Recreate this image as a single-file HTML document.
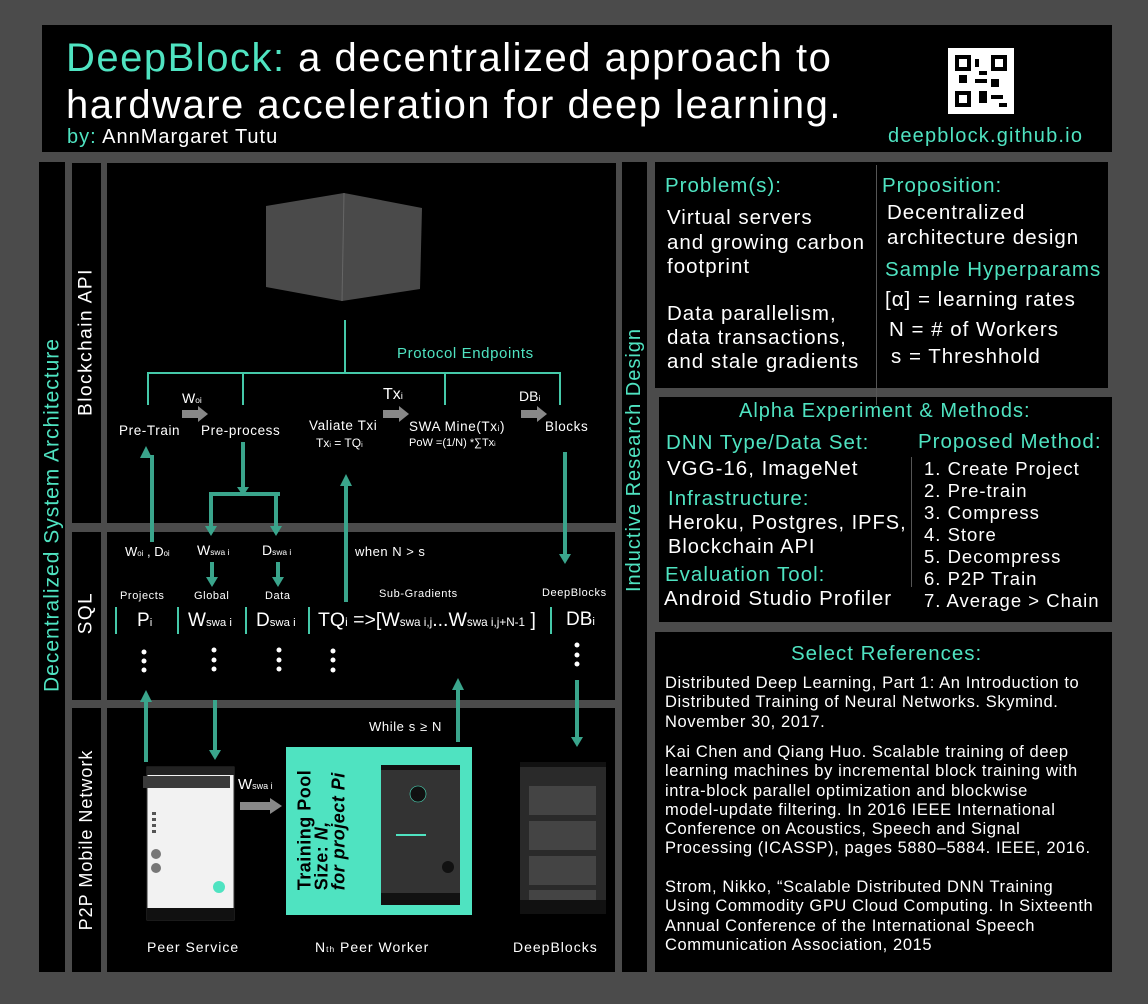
<!DOCTYPE html>
<html><head><meta charset="utf-8"><style>
*{margin:0;padding:0;box-sizing:border-box}
body{width:1148px;height:1004px;background:#4b4b4b;position:relative;overflow:hidden;font-family:"Liberation Sans",sans-serif;color:#fff}
.b{position:absolute;background:#000}
.t{position:absolute;white-space:nowrap;line-height:1}
.g{color:#4fe3c1}
.v{position:absolute;white-space:nowrap;transform:translate(-50%,-50%) rotate(-90deg);line-height:1}
sub{font-size:60%;vertical-align:baseline}
</style></head><body>
<!-- header -->
<div class="b" style="left:42px;top:25px;width:1070px;height:127px"></div>
<div class="t" style="left:66px;top:38px;font-size:40px;letter-spacing:1.5px"><span class="g">DeepBlock:</span> a decentralized approach to</div>
<div class="t" style="left:66px;top:85px;font-size:40px;letter-spacing:1.5px">hardware acceleration for deep learning.</div>
<div class="t" style="left:67px;top:127px;font-size:20px;letter-spacing:1px"><span class="g">by:</span> AnnMargaret Tutu</div>
<div style="position:absolute;left:948px;top:48px;width:66px;height:66px;background:#fff"></div>
<svg style="position:absolute;left:955px;top:55px" width="52" height="52" viewBox="0 0 13 13"><g fill="#000">
<rect x="0" y="0" width="4" height="4"/><rect x="9" y="0" width="4" height="4"/><rect x="0" y="9" width="4" height="4"/>
<rect x="5" y="1" width="1" height="2"/><rect x="6" y="4" width="2" height="1"/><rect x="5" y="6" width="3" height="1"/><rect x="9" y="6" width="2" height="2"/><rect x="6" y="9" width="2" height="3"/><rect x="9" y="10" width="3" height="1"/><rect x="1" y="5" width="2" height="2"/><rect x="11" y="12" width="2" height="1"/></g>
<g fill="#fff"><rect x="1" y="1" width="2" height="2"/><rect x="10" y="1" width="2" height="2"/><rect x="1" y="10" width="2" height="2"/></g></svg>
<div class="t g" style="left:888px;top:126px;font-size:20px;letter-spacing:1.2px">deepblock.github.io</div>

<!-- left side -->
<div class="b" style="left:39px;top:162px;width:26px;height:810px"></div>
<div class="v g" style="left:52px;top:515px;font-size:21px;letter-spacing:1px">Decentralized System Architecture</div>
<div class="b" style="left:72px;top:163px;width:29px;height:360px"></div>
<div class="b" style="left:72px;top:532px;width:29px;height:168px"></div>
<div class="b" style="left:72px;top:708px;width:29px;height:264px"></div>
<div class="v" style="left:86px;top:342px;font-size:19px;letter-spacing:1.5px">Blockchain API</div>
<div class="v" style="left:86px;top:613px;font-size:19px;letter-spacing:1.5px">SQL</div>
<div class="v" style="left:86px;top:840px;font-size:18px;letter-spacing:1px">P2P Mobile Network</div>
<div class="b" style="left:107px;top:163px;width:509px;height:360px"></div>
<div class="b" style="left:107px;top:532px;width:508px;height:168px"></div>
<div class="b" style="left:107px;top:708px;width:508px;height:264px"></div>

<!-- right side -->
<div class="b" style="left:622px;top:162px;width:25px;height:810px"></div>
<div class="v g" style="left:634px;top:460px;font-size:20px;letter-spacing:1px">Inductive Research Design</div>
<div class="b" style="left:655px;top:162px;width:453px;height:226px"></div>
<div class="b" style="left:659px;top:397px;width:453px;height:225px"></div>
<div class="b" style="left:655px;top:632px;width:457px;height:340px"></div>
<div style="position:absolute;left:876px;top:165px;width:1px;height:240px;background:#555"></div>
<div style="position:absolute;left:911px;top:457px;width:1px;height:130px;background:#555"></div>

<div class="t g" style="left:665px;top:176px;font-size:20.5px;letter-spacing:1px">Problem(s):</div>
<div class="t" style="left:667px;top:206px;font-size:20.5px;letter-spacing:1px;line-height:24.5px">Virtual servers<br>and growing carbon<br>footprint</div>
<div class="t" style="left:667px;top:302px;font-size:20.5px;letter-spacing:1px;line-height:24px">Data parallelism,<br>data transactions,<br>and stale gradients</div>
<div class="t g" style="left:882px;top:176px;font-size:20.5px;letter-spacing:1px">Proposition:</div>
<div class="t" style="left:887px;top:201px;font-size:20.5px;letter-spacing:1px;line-height:24.5px">Decentralized<br>architecture design</div>
<div class="t g" style="left:885px;top:260px;font-size:20.5px;letter-spacing:1px">Sample Hyperparams</div>
<div class="t" style="left:885px;top:290px;font-size:20.5px;letter-spacing:1px">[α] = learning rates</div>
<div class="t" style="left:889px;top:320px;font-size:20.5px;letter-spacing:1px">N = # of Workers</div>
<div class="t" style="left:891px;top:347px;font-size:20.5px;letter-spacing:1px">s = Threshhold</div>

<div class="t g" style="left:739px;top:401px;font-size:20px;letter-spacing:1px">Alpha Experiment &amp; Methods:</div>
<div class="t g" style="left:666px;top:433px;font-size:20.5px;letter-spacing:1px">DNN Type/Data Set:</div>
<div class="t" style="left:667px;top:459px;font-size:20.5px;letter-spacing:1px">VGG-16, ImageNet</div>
<div class="t g" style="left:668px;top:489px;font-size:20.5px;letter-spacing:1px">Infrastructure:</div>
<div class="t" style="left:668px;top:511px;font-size:20px;letter-spacing:1px;line-height:24px">Heroku, Postgres, IPFS,<br>Blockchain API</div>
<div class="t g" style="left:665px;top:565px;font-size:20.5px;letter-spacing:1px">Evaluation Tool:</div>
<div class="t" style="left:664px;top:589px;font-size:20.5px;letter-spacing:1px">Android Studio Profiler</div>
<div class="t g" style="left:918px;top:432px;font-size:20.5px;letter-spacing:1px">Proposed Method:</div>
<div class="t" style="left:924px;top:458px;font-size:18.5px;letter-spacing:1px;line-height:22px">1. Create Project<br>2. Pre-train<br>3. Compress<br>4. Store<br>5. Decompress<br>6. P2P Train<br>7. Average &gt; Chain</div>

<div class="t g" style="left:791px;top:644px;font-size:20.5px;letter-spacing:1px">Select References:</div>
<div class="t" style="left:665px;top:674px;font-size:16.5px;letter-spacing:.6px;line-height:19.3px">Distributed Deep Learning, Part 1: An Introduction to<br>Distributed Training of Neural Networks. Skymind.<br>November 30, 2017.</div>
<div class="t" style="left:665px;top:743px;font-size:16.5px;letter-spacing:.6px;line-height:19.3px">Kai Chen and Qiang Huo. Scalable training of deep<br>learning machines by incremental block training with<br>intra-block parallel optimization and blockwise<br>model-update filtering. In 2016 IEEE International<br>Conference on Acoustics, Speech and Signal<br>Processing (ICASSP), pages 5880–5884. IEEE, 2016.</div>
<div class="t" style="left:665px;top:878px;font-size:16.5px;letter-spacing:.6px;line-height:19.3px">Strom, Nikko, “Scalable Distributed DNN Training<br>Using Commodity GPU Cloud Computing. In Sixteenth<br>Annual Conference of the International Speech<br>Communication Association, 2015</div>

<!-- diagram graphics -->
<svg style="position:absolute;left:0;top:0" width="1148" height="1004">
<polygon points="266,206 344,193 422,208 420,289 342,301 266,287" fill="#4a4a4a"/>
<line x1="344" y1="193" x2="342" y2="301" stroke="#666" stroke-width="1"/>
<g stroke="#45c9a9" stroke-width="2" fill="none">
<path d="M345 320V373M148 405V373H560V405M243 373V405M445 373V405"/>
</g>
<g fill="#888">
<path d="M182 410h16v-4l10 8-10 8v-4h-16z"/><path d="M383 410h16v-4l10 8-10 8v-4h-16z"/><path d="M521 410h16v-4l10 8-10 8v-4h-16z"/>
<path d="M240 802h30v-4l12 8-12 8v-4h-30z"/>
</g>
<g stroke="#3aa58c" stroke-width="4" fill="none">
<path d="M152 542V455M243 442V493M209 494H280M211 494V530M276 494V530M212 562V580M278 562V580M346 602V485M565 452V556M146 762V700M215 700V752M458 742V688M577 680V740"/>
</g>
<g fill="#3aa58c">
<path d="M146 446l6 12h-12zM243 496l-6-9h12zM211 536l-6-10h12zM276 536l-6-10h12zM212 587l-6-10h12zM278 587l-6-10h12zM346 474l6 12h-12zM565 564l-6-10h12zM146 690l6 12h-12zM215 760l-6-10h12zM458 678l6 12h-12zM577 747l-6-10h12z"/>
</g>
<g stroke="#45c9a9" stroke-width="2"><path d="M116 607v27M178 607v27M246 607v27M309 607v27M551 607v27"/></g>
<g fill="#fff">
<circle cx="144" cy="652" r="2.5"/><circle cx="144" cy="661" r="2.5"/><circle cx="144" cy="670" r="2.5"/>
<circle cx="214" cy="650" r="2.5"/><circle cx="214" cy="660" r="2.5"/><circle cx="214" cy="669" r="2.5"/>
<circle cx="279" cy="650" r="2.5"/><circle cx="279" cy="660" r="2.5"/><circle cx="279" cy="669" r="2.5"/>
<circle cx="333" cy="651" r="2.5"/><circle cx="333" cy="660" r="2.5"/><circle cx="333" cy="670" r="2.5"/>
<circle cx="577" cy="645" r="2.5"/><circle cx="577" cy="655" r="2.5"/><circle cx="577" cy="664" r="2.5"/>
</g>
<!-- phone 1 -->
<rect x="147" y="767" width="87" height="153" fill="#f2f2f2" stroke="#333"/>
<rect x="147" y="767" width="87" height="8" fill="#222"/>
<rect x="143" y="776" width="87" height="12" fill="#3a3a3a"/>
<rect x="147" y="908" width="87" height="12" fill="#111"/>
<circle cx="156" cy="854" r="5" fill="#777"/><circle cx="156" cy="868" r="5" fill="#777"/>
<circle cx="219" cy="887" r="6" fill="#4fe3c1"/>
<g fill="#555"><rect x="152" y="812" width="4" height="3"/><rect x="152" y="818" width="4" height="3"/><rect x="152" y="824" width="4" height="3"/><rect x="152" y="830" width="4" height="3"/></g>
<!-- training pool -->
<rect x="286" y="747" width="186" height="168" fill="#4fe3c1"/>
<rect x="381" y="765" width="79" height="140" fill="#333"/>
<rect x="381" y="765" width="79" height="5" fill="#111"/>
<rect x="381" y="893" width="79" height="12" fill="#111"/>
<circle cx="418" cy="794" r="8" fill="#111" stroke="#4fe3c1" stroke-width=".6"/>
<rect x="396" y="834" width="30" height="2" fill="#4fe3c1"/>
<circle cx="448" cy="867" r="6" fill="#111"/>
<!-- phone 3 -->
<rect x="520" y="762" width="86" height="152" fill="#2a2a2a"/>
<rect x="520" y="762" width="86" height="5" fill="#111"/>
<rect x="520" y="900" width="86" height="14" fill="#111"/>
<g fill="#444"><rect x="529" y="786" width="67" height="29"/><rect x="529" y="821" width="67" height="29"/><rect x="529" y="856" width="67" height="29"/><rect x="529" y="890" width="67" height="10"/></g>
</svg>
<div class="t" style="left:413px;top:793px;font-size:5px;color:#111">db</div>
<div class="v" style="left:322px;top:830px;font-size:18px;font-weight:bold;color:#000;line-height:17px;text-align:left;letter-spacing:.5px">Training Pool<br>Size: <i>N,</i><br><i>for project Pi</i></div>

<!-- diagram labels -->
<div class="t g" style="left:397px;top:346px;font-size:15px;letter-spacing:.6px">Protocol Endpoints</div>
<div class="t" style="left:182px;top:391px;font-size:14px">W<sub>oi</sub></div>
<div class="t" style="left:383px;top:387px;font-size:16px">Tx<sub>i</sub></div>
<div class="t" style="left:519px;top:389px;font-size:14px">DB<sub>i</sub></div>
<div class="t" style="left:119px;top:424px;font-size:13.5px;letter-spacing:.6px">Pre-Train</div>
<div class="t" style="left:201px;top:424px;font-size:13.5px;letter-spacing:.6px">Pre-process</div>
<div class="t" style="left:309px;top:419px;font-size:13.5px;letter-spacing:.6px">Valiate Txi</div>
<div class="t" style="left:316px;top:437px;font-size:12px">Tx<sub>i</sub> = TQ<sub>i</sub></div>
<div class="t" style="left:409px;top:420px;font-size:13.5px;letter-spacing:.6px">SWA Mine(Tx<sub>i</sub>)</div>
<div class="t" style="left:409px;top:438px;font-size:11px">PoW =(1/N) *∑Tx<sub>i</sub></div>
<div class="t" style="left:545px;top:420px;font-size:13.5px;letter-spacing:.6px">Blocks</div>
<div class="t" style="left:125px;top:545px;font-size:13px">W<sub>oi</sub> , D<sub>oi</sub></div>
<div class="t" style="left:197px;top:543px;font-size:14px">W<sub>swa i</sub></div>
<div class="t" style="left:262px;top:543px;font-size:14px">D<sub>swa i</sub></div>
<div class="t" style="left:355px;top:545px;font-size:13px;letter-spacing:.5px">when N &gt; s</div>
<div class="t" style="left:120px;top:591px;font-size:11px;letter-spacing:.6px">Projects</div>
<div class="t" style="left:194px;top:591px;font-size:11px;letter-spacing:.6px">Global</div>
<div class="t" style="left:265px;top:591px;font-size:11px;letter-spacing:.6px">Data</div>
<div class="t" style="left:379px;top:589px;font-size:11px;letter-spacing:.6px">Sub-Gradients</div>
<div class="t" style="left:542px;top:588px;font-size:11px;letter-spacing:.6px">DeepBlocks</div>
<div class="t" style="left:137px;top:611px;font-size:19px">P<sub>i</sub></div>
<div class="t" style="left:188px;top:611px;font-size:19px">W<sub>swa i</sub></div>
<div class="t" style="left:256px;top:611px;font-size:19px">D<sub>swa i</sub></div>
<div class="t" style="left:318px;top:611px;font-size:19.5px">TQ<sub>i</sub> =&gt;[W<sub>swa i,j</sub>...W<sub>swa i,j+N-1</sub> ]</div>
<div class="t" style="left:566px;top:610px;font-size:19px">DB<sub>i</sub></div>
<div class="t" style="left:369px;top:720px;font-size:13px;letter-spacing:.6px">While s ≥ N</div>
<div class="t" style="left:238px;top:777px;font-size:15px">W<sub>swa i</sub></div>
<div class="t" style="left:147px;top:940px;font-size:14px;letter-spacing:1px">Peer Service</div>
<div class="t" style="left:315px;top:940px;font-size:14px;letter-spacing:1px">N<sub>th</sub> Peer Worker</div>
<div class="t" style="left:513px;top:940px;font-size:14px;letter-spacing:1px">DeepBlocks</div>
</body></html>
